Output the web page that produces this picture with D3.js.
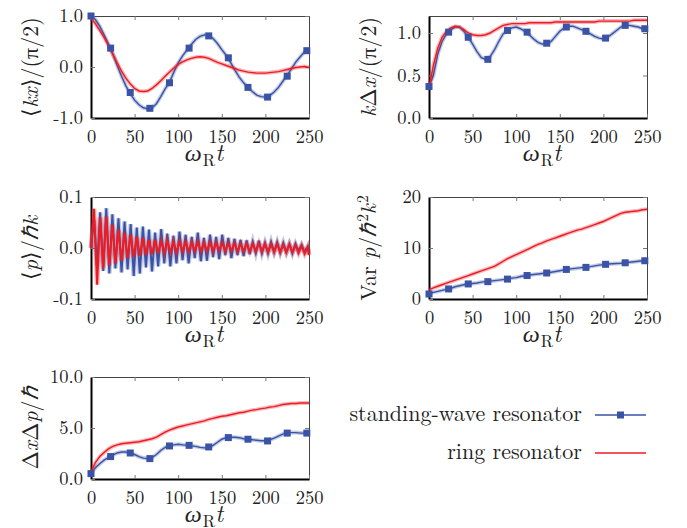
<!DOCTYPE html>
<html>
<head>
<meta charset="utf-8">
<script src="https://cdn.jsdelivr.net/npm/d3@7"></script>
<style>
  body { margin: 0; background: #fff; }
</style>
</head>
<body>
<svg id="chart" width="687" height="528"></svg>
<script>
(function (d3) {
  'use strict';

  // time grid (omega_R t) for the smooth curves
  const tGrid = [0, 5, 10, 15, 20, 25, 30, 35, 40, 45, 50, 55, 60, 65, 70, 75, 80, 85, 90, 95,
    100, 105, 110, 115, 120, 125, 130, 135, 140, 145, 150, 155, 160, 165, 170, 175, 180, 185, 190, 195,
    200, 205, 210, 215, 220, 225, 230, 235, 240, 245, 250];

  // marker positions of the standing-wave series
  const markerT = [0, 22.5, 45, 67.5, 90, 112.5, 135, 157.5, 180, 202.5, 225, 247.5];

  // <kx>/(pi/2)
  const kxStanding = [1.0, 0.93, 0.8, 0.63, 0.45, 0.26, 0.03, -0.18, -0.37, -0.52, -0.65, -0.74, -0.8, -0.82, -0.8, -0.72, -0.58, -0.43, -0.3, -0.1,
    0.08, 0.22, 0.33, 0.44, 0.54, 0.6, 0.63, 0.62, 0.56, 0.46, 0.34, 0.23, 0.09, -0.06, -0.2, -0.31, -0.4, -0.48, -0.55, -0.58,
    -0.59, -0.56, -0.49, -0.4, -0.28, -0.16, -0.03, 0.1, 0.2, 0.3, 0.36];
  const kxRing = [0.95, 0.85, 0.72, 0.58, 0.42, 0.25, 0.08, -0.08, -0.22, -0.33, -0.42, -0.47, -0.48, -0.47, -0.42, -0.35, -0.27, -0.18, -0.1, -0.02,
    0.05, 0.1, 0.14, 0.17, 0.19, 0.2, 0.19, 0.17, 0.13, 0.09, 0.06, 0.03, 0.0, -0.03, -0.06, -0.08, -0.1, -0.11, -0.12, -0.12,
    -0.12, -0.11, -0.1, -0.09, -0.07, -0.05, -0.03, -0.01, 0.0, 0.01, -0.01];
  const kxMarkers = [1.0, 0.37, -0.5, -0.81, -0.31, 0.37, 0.61, 0.18, -0.4, -0.59, -0.18, 0.32];

  // k Delta x/(pi/2)
  const dxStanding = [0.37, 0.5, 0.75, 0.9, 0.99, 1.04, 1.07, 1.07, 1.02, 0.95, 0.87, 0.78, 0.71, 0.69, 0.72, 0.8, 0.9, 0.99, 1.03, 1.06,
    1.07, 1.05, 1.02, 0.98, 0.93, 0.89, 0.87, 0.87, 0.9, 0.96, 1.02, 1.06, 1.08, 1.08, 1.06, 1.04, 1.02, 0.99, 0.96, 0.94,
    0.93, 0.95, 0.99, 1.03, 1.07, 1.09, 1.09, 1.08, 1.07, 1.05, 1.04];
  const dxRing = [0.35, 0.62, 0.82, 0.95, 1.02, 1.06, 1.08, 1.07, 1.04, 1.0, 0.98, 0.97, 0.97, 0.98, 1.0, 1.03, 1.06, 1.09, 1.1, 1.11,
    1.11, 1.11, 1.11, 1.12, 1.12, 1.12, 1.12, 1.12, 1.12, 1.13, 1.13, 1.13, 1.13, 1.13, 1.13, 1.13, 1.13, 1.13, 1.13, 1.14,
    1.14, 1.14, 1.14, 1.14, 1.14, 1.14, 1.14, 1.15, 1.15, 1.15, 1.15];
  const dxMarkers = [0.37, 1.01, 0.95, 0.69, 1.03, 1.01, 0.88, 1.07, 1.02, 0.94, 1.09, 1.05];

  // <p>/hbar k, fast oscillation sampled at its turning points
  const tOsc = [0, 3.5, 7, 10.5, 14, 17.5, 21, 24.5, 28, 31.5, 35, 38.5, 42, 45.5, 49, 52.5, 56, 59.5, 63, 66.5,
    70, 73.5, 77, 80.5, 84, 87.5, 91, 94.5, 98, 101.5, 105, 108.5, 112, 115.5, 119, 122.5, 126, 129.5, 133, 136.5,
    140, 143.5, 147, 150.5, 154, 157.5, 161, 164.5, 168, 171.5, 175, 178.5, 182, 185.5, 189, 192.5, 196, 199.5, 203, 206.5,
    210, 213.5, 217, 220.5, 224, 227.5, 231, 234.5, 238, 241.5, 245, 248.5, 250];
  const pStanding = [0.0, 0.055, -0.035, 0.07, -0.045, 0.078, -0.05, 0.066, -0.04, 0.058,
    -0.048, 0.052, -0.042, 0.047, -0.055, 0.04, -0.05, 0.042, -0.038, 0.036,
    -0.046, 0.03, -0.036, 0.037, -0.03, 0.028, -0.036, 0.024, -0.03, 0.032,
    -0.024, 0.026, -0.03, 0.022, -0.02, 0.03, -0.026, 0.02, -0.025, 0.026,
    -0.018, 0.022, -0.022, 0.026, -0.014, 0.02, -0.02, 0.018, -0.014, 0.016,
    -0.016, 0.015, -0.012, 0.012, -0.01, 0.014, -0.01, 0.01, -0.01, 0.012,
    -0.008, 0.011, -0.009, 0.01, -0.008, 0.008, -0.01, 0.008, -0.006, 0.006,
    -0.008, 0.002, -0.012];
  const pRing = [0.0, 0.077, -0.072, 0.06, -0.04, 0.062, -0.034, 0.046, -0.03, 0.036,
    -0.025, 0.03, -0.02, 0.026, -0.018, 0.022, -0.015, 0.02, -0.014, 0.016,
    -0.012, 0.016, -0.01, 0.013, -0.009, 0.014, -0.008, 0.012, -0.008, 0.012,
    -0.006, 0.012, -0.006, 0.011, -0.005, 0.012, -0.006, 0.01, -0.005, 0.011,
    -0.006, 0.01, -0.004, 0.01, -0.006, 0.009, -0.005, 0.009, -0.006, 0.008,
    -0.006, 0.008, -0.007, 0.008, -0.006, 0.009, -0.007, 0.008, -0.008, 0.007,
    -0.008, 0.008, -0.008, 0.006, -0.009, 0.007, -0.008, 0.005, -0.01, 0.004,
    -0.011, 0.002, -0.014];

  // Var p / hbar^2 k^2
  const varStanding = [1.0, 1.3, 1.5, 1.7, 1.9, 2.1, 2.4, 2.6, 2.8, 2.95, 3.05, 3.15, 3.3, 3.4, 3.5, 3.6, 3.7, 3.8, 3.9, 4.1,
    4.2, 4.4, 4.55, 4.7, 4.8, 4.9, 5.0, 5.1, 5.25, 5.4, 5.55, 5.7, 5.85, 5.95, 6.05, 6.15, 6.25, 6.35, 6.5, 6.65,
    6.75, 6.85, 6.9, 6.95, 7.0, 7.1, 7.2, 7.3, 7.4, 7.5, 7.55];
  const varRing = [1.8, 2.2, 2.5, 2.8, 3.1, 3.4, 3.7, 4.0, 4.3, 4.6, 4.9, 5.2, 5.5, 5.8, 6.1, 6.4, 6.9, 7.4, 7.9, 8.3,
    8.7, 9.1, 9.5, 9.9, 10.3, 10.7, 11.0, 11.4, 11.7, 12.0, 12.3, 12.6, 12.9, 13.2, 13.5, 13.7, 14.0, 14.3, 14.6, 14.9,
    15.2, 15.6, 16.0, 16.4, 16.8, 17.0, 17.1, 17.2, 17.3, 17.5, 17.6];
  const varMarkers = [0.98, 1.97, 2.95, 3.4, 3.9, 4.6, 5.1, 5.8, 6.2, 6.8, 7.1, 7.5];

  // Delta x Delta p / hbar
  const dxdpStanding = [0.55, 1.1, 1.5, 1.85, 2.1, 2.35, 2.55, 2.65, 2.65, 2.55, 2.4, 2.2, 2.05, 2.0, 2.1, 2.4, 2.8, 3.1, 3.25, 3.35,
    3.4, 3.35, 3.3, 3.25, 3.2, 3.1, 3.05, 3.1, 3.3, 3.6, 3.9, 4.05, 4.1, 4.1, 4.05, 3.95, 3.9, 3.85, 3.8, 3.75,
    3.75, 3.85, 4.0, 4.2, 4.4, 4.5, 4.55, 4.55, 4.5, 4.5, 4.5];
  const dxdpRing = [0.7, 1.6, 2.2, 2.6, 2.95, 3.2, 3.35, 3.45, 3.5, 3.55, 3.6, 3.65, 3.75, 3.85, 3.95, 4.1, 4.35, 4.6, 4.8, 4.95,
    5.1, 5.2, 5.3, 5.4, 5.5, 5.6, 5.7, 5.85, 5.95, 6.05, 6.15, 6.2, 6.3, 6.4, 6.5, 6.55, 6.65, 6.75, 6.8, 6.9,
    6.95, 7.05, 7.1, 7.2, 7.3, 7.35, 7.4, 7.4, 7.45, 7.45, 7.45];
  const dxdpMarkers = [0.53, 2.2, 2.55, 2.0, 3.24, 3.3, 3.14, 4.06, 3.9, 3.73, 4.5, 4.5];

  const xTicks = [0, 50, 100, 150, 200, 250];
  const legendLabels = ['standing-wave resonator', 'ring resonator'];

  const FONT = '"Latin Modern Roman", "CMU Serif", "Liberation Serif", serif';
  const SYM_FONT = '"Liberation Serif", serif';
  const BLUE = '#3a53a4';
  const RED = '#ec1c24';
  const PLOT_W = 218;
  const PLOT_H = 102;
  const TICK_LEN = 4;

  const one = (d) => d.toFixed(1);
  const int = (d) => d.toFixed(0);

  const hbar = { s: 'ℏ', sym: true, i: true };

  const panels = [
    { left: 91, top: 16, domain: [-1, 1], ticks: [-1, 0, 1], fmt: one, lw: 1.4,
      t: tGrid, standing: kxStanding, ring: kxRing, markers: kxMarkers,
      label: [{ s: '⟨' }, { s: 'kx', i: true }, { s: '⟩/(π/2)' }] },
    { left: 429, top: 16, domain: [0, 1.2], ticks: [0, 0.5, 1], fmt: one, lw: 1.4,
      t: tGrid, standing: dxStanding, ring: dxRing, markers: dxMarkers,
      label: [{ s: 'k', i: true }, { s: 'Δ' }, { s: 'x', i: true }, { s: '/(π/2)' }] },
    { left: 91, top: 197, domain: [-0.1, 0.1], ticks: [-0.1, 0, 0.1], fmt: one, lw: 2,
      t: tOsc, standing: pStanding, ring: pRing, markers: null,
      label: [{ s: '⟨' }, { s: 'p', i: true }, { s: '⟩/' }, hbar, { s: 'k', i: true }] },
    { left: 429, top: 197, domain: [0, 20], ticks: [0, 10, 20], fmt: int, lw: 1.4,
      t: tGrid, standing: varStanding, ring: varRing, markers: varMarkers,
      label: [{ s: 'Var ' }, { s: 'p', i: true }, { s: '/' }, hbar, { s: '2', sup: true }, { s: 'k', i: true }, { s: '2', sup: true }] },
    { left: 91, top: 377, domain: [0, 10], ticks: [0, 5, 10], fmt: one, lw: 1.4,
      t: tGrid, standing: dxdpStanding, ring: dxdpRing, markers: dxdpMarkers,
      label: [{ s: 'Δ' }, { s: 'x', i: true }, { s: 'Δ' }, { s: 'p', i: true }, { s: '/' }, hbar] },
  ];

  const svg = d3.select('#chart');

  // write a list of styled pieces into a text element
  const addPieces = (textSel, pieces, size) => {
    let shifted = 0;
    pieces.forEach((p) => {
      const ts = textSel.append('tspan').text(p.s);
      if (p.i) ts.style('font-style', 'italic');
      if (p.sym) ts.style('font-family', SYM_FONT);
      let dy = 0;
      if (p.sup) dy = -size * 0.38;
      if (p.sub) dy = size * 0.22;
      if (p.sup || p.sub) ts.style('font-size', (size * 0.7) + 'px').attr('dx', 1);
      ts.attr('dy', dy - shifted);
      shifted = dy;
    });
  };

  const drawPanel = (p) => {
    const g = svg.append('g').attr('transform', `translate(${p.left},${p.top})`);
    const x = d3.scaleLinear().domain([0, 250]).range([0, PLOT_W]);
    const y = d3.scaleLinear().domain(p.domain).range([PLOT_H, 0]);

    // top and right: thin frame with inward ticks
    g.append('g').attr('class', 'axis-top')
      .call(d3.axisTop(x).tickValues(xTicks).tickSizeInner(-TICK_LEN).tickSizeOuter(0).tickFormat(''));
    g.append('g').attr('class', 'axis-right').attr('transform', `translate(${PLOT_W},0)`)
      .call(d3.axisRight(y).tickValues(p.ticks).tickSizeInner(-TICK_LEN).tickSizeOuter(0).tickFormat(''));

    const xAxis = g.append('g').attr('class', 'axis-bottom').attr('transform', `translate(0,${PLOT_H})`)
      .call(d3.axisBottom(x).tickValues(xTicks).tickSizeInner(-TICK_LEN).tickSizeOuter(0).tickPadding(12));
    const yAxis = g.append('g').attr('class', 'axis-left')
      .call(d3.axisLeft(y).tickValues(p.ticks).tickSizeInner(-TICK_LEN).tickSizeOuter(0).tickPadding(8).tickFormat(p.fmt));

    g.selectAll('.axis-top .domain, .axis-right .domain').attr('stroke', '#444').attr('stroke-width', 1);
    g.selectAll('.tick line').attr('stroke', '#777').attr('stroke-width', 1);
    [xAxis, yAxis].forEach((a) => {
      a.select('.domain').attr('stroke', '#000').attr('stroke-width', 2);
      a.selectAll('text').style('font-family', FONT).style('font-size', '18.5px').attr('fill', '#222');
    });

    const series = (vals) => p.t.map((t, i) => [t, vals[i]]);
    const line = d3.line().x((d) => x(d[0])).y((d) => y(d[1]));

    [[p.standing, BLUE], [p.ring, RED]].forEach(([vals, color]) => {
      const pts = series(vals);
      g.append('path').attr('d', line(pts)).attr('fill', 'none')
        .attr('stroke', color).attr('stroke-opacity', 0.3).attr('stroke-width', p.lw + 2.6);
      g.append('path').attr('d', line(pts)).attr('fill', 'none')
        .attr('stroke', color).attr('stroke-width', p.lw);
    });

    if (p.markers) {
      g.selectAll('rect.mk').data(markerT.map((t, i) => [t, p.markers[i]])).enter()
        .append('rect').attr('class', 'mk')
        .attr('x', (d) => x(d[0]) - 3.5).attr('y', (d) => y(d[1]) - 3.5)
        .attr('width', 7).attr('height', 7).attr('fill', BLUE);
    }

    // x label
    const xl = g.append('text').attr('x', PLOT_W / 2 + 4).attr('y', PLOT_H + 43)
      .attr('text-anchor', 'middle').style('font-family', FONT).style('font-size', '24px').attr('fill', '#222');
    addPieces(xl, [{ s: 'ω', i: true, sym: true }, { s: 'R', sub: true }, { s: 't', i: true }], 24);

    // y label
    const yl = g.append('text')
      .attr('transform', `translate(-53,${PLOT_H / 2}) rotate(-90)`)
      .attr('text-anchor', 'middle').style('font-family', FONT).style('font-size', '22px').attr('fill', '#222');
    addPieces(yl, p.label, 22);
  };

  panels.forEach(drawPanel);

  // legend
  const legend = svg.append('g').attr('transform', 'translate(582,0)');
  const legendRows = [
    { y: 415, color: BLUE, marker: true },
    { y: 453, color: RED, marker: false },
  ];
  legendRows.forEach((row, i) => {
    legend.append('text').attr('x', 0).attr('y', row.y + 6)
      .attr('text-anchor', 'end').style('font-family', FONT).style('font-size', '22px')
      .attr('fill', '#222').text(legendLabels[i]);
    legend.append('line').attr('x1', 13).attr('x2', 64).attr('y1', row.y).attr('y2', row.y)
      .attr('stroke', row.color).attr('stroke-width', 1.3);
    if (row.marker) {
      legend.append('rect').attr('x', 38.5 - 3.5).attr('y', row.y - 3.5)
        .attr('width', 7).attr('height', 7).attr('fill', row.color);
    }
  });

}(d3));
</script>
</body>
</html>
